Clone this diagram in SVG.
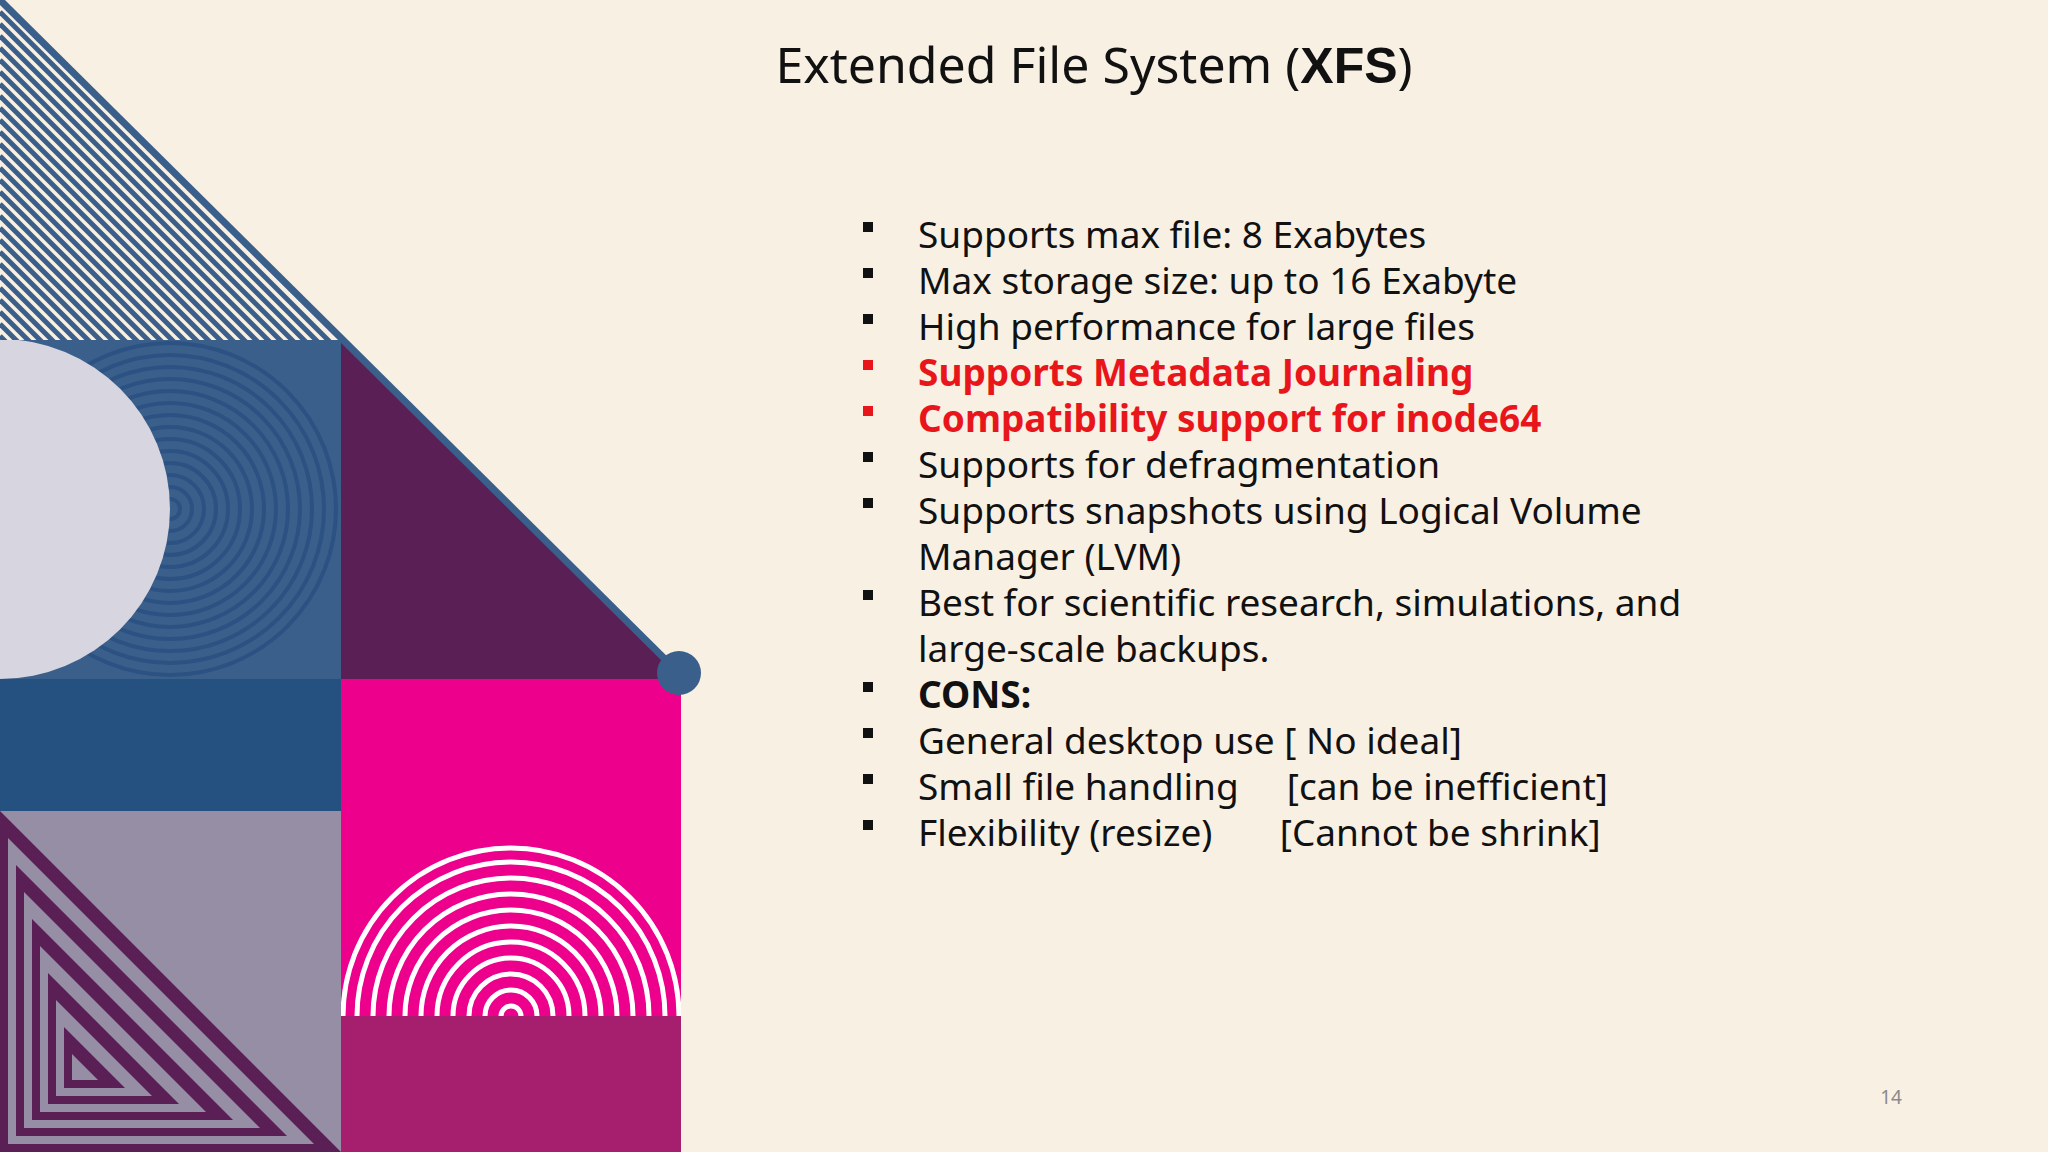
<svg xmlns="http://www.w3.org/2000/svg" width="2048" height="1152" viewBox="0 0 2048 1152">
<style>
.t{font-family:"Noto Sans","Open Sans",sans-serif;font-size:37px;fill:#111}
.r{fill:#e8161b;font-weight:bold}
.b{font-weight:bold}
.bul{fill:#111}
</style>
<defs>
<clipPath id="cTri"><polygon points="0,0 343,340 0,340"/></clipPath>
<clipPath id="cBlue"><rect x="0" y="340" width="341" height="339"/></clipPath>
<clipPath id="cPink"><rect x="341" y="679" width="340" height="337"/></clipPath>
</defs>
<rect width="2048" height="1152" fill="#f9f0e4"/>
<g id="art">
<g clip-path="url(#cTri)" stroke="#3a5f8a" stroke-width="5">
<line x1="0" y1="12" x2="340" y2="352"/><line x1="0" y1="24" x2="340" y2="364"/><line x1="0" y1="36" x2="340" y2="376"/><line x1="0" y1="48" x2="340" y2="388"/><line x1="0" y1="60" x2="340" y2="400"/><line x1="0" y1="72" x2="340" y2="412"/><line x1="0" y1="84" x2="340" y2="424"/><line x1="0" y1="96" x2="340" y2="436"/><line x1="0" y1="108" x2="340" y2="448"/><line x1="0" y1="120" x2="340" y2="460"/><line x1="0" y1="132" x2="340" y2="472"/><line x1="0" y1="144" x2="340" y2="484"/><line x1="0" y1="156" x2="340" y2="496"/><line x1="0" y1="168" x2="340" y2="508"/><line x1="0" y1="180" x2="340" y2="520"/><line x1="0" y1="192" x2="340" y2="532"/><line x1="0" y1="204" x2="340" y2="544"/><line x1="0" y1="216" x2="340" y2="556"/><line x1="0" y1="228" x2="340" y2="568"/><line x1="0" y1="240" x2="340" y2="580"/><line x1="0" y1="252" x2="340" y2="592"/><line x1="0" y1="264" x2="340" y2="604"/><line x1="0" y1="276" x2="340" y2="616"/><line x1="0" y1="288" x2="340" y2="628"/><line x1="0" y1="300" x2="340" y2="640"/><line x1="0" y1="312" x2="340" y2="652"/><line x1="0" y1="324" x2="340" y2="664"/><line x1="0" y1="336" x2="340" y2="676"/>
</g>
<rect x="0" y="340" width="341" height="339" fill="#3a5f8a"/>
<g clip-path="url(#cBlue)" fill="none" stroke="#2c5283" stroke-width="4">
<circle cx="170" cy="509" r="10"/><circle cx="170" cy="509" r="22"/><circle cx="170" cy="509" r="34"/><circle cx="170" cy="509" r="46"/><circle cx="170" cy="509" r="58"/><circle cx="170" cy="509" r="70"/><circle cx="170" cy="509" r="82"/><circle cx="170" cy="509" r="94"/><circle cx="170" cy="509" r="106"/><circle cx="170" cy="509" r="118"/><circle cx="170" cy="509" r="130"/><circle cx="170" cy="509" r="142"/><circle cx="170" cy="509" r="154"/><circle cx="170" cy="509" r="166"/>
</g>
<g clip-path="url(#cBlue)"><circle cx="0" cy="509" r="170" fill="#d6d5e0"/></g>
<polygon points="341,338 679,673 679,679 341,679" fill="#5a1f55"/>
<rect x="0" y="679" width="341" height="132" fill="#24517f"/>
<rect x="341" y="679" width="340" height="337" fill="#ec008c"/>
<g clip-path="url(#cPink)" fill="none" stroke="#fff" stroke-width="5">
<circle cx="511" cy="1016" r="10"/><circle cx="511" cy="1016" r="26"/><circle cx="511" cy="1016" r="42"/><circle cx="511" cy="1016" r="58"/><circle cx="511" cy="1016" r="74"/><circle cx="511" cy="1016" r="90"/><circle cx="511" cy="1016" r="106"/><circle cx="511" cy="1016" r="122"/><circle cx="511" cy="1016" r="138"/><circle cx="511" cy="1016" r="154"/><circle cx="511" cy="1016" r="168"/>
</g>
<rect x="341" y="1016" width="340" height="136" fill="#a61e6e"/>
<rect x="0" y="811" width="341" height="341" fill="#968ea5"/>
<g>
<polygon points="0,811 0,1152 341,1152" fill="#5a1f55"/>
<polygon points="8,838 8,1144 314,1144" fill="#968ea5"/>
<polygon points="16,865 16,1136 287,1136" fill="#5a1f55"/>
<polygon points="24,892 24,1128 260,1128" fill="#968ea5"/>
<polygon points="32,919 32,1120 233,1120" fill="#5a1f55"/>
<polygon points="40,946 40,1112 206,1112" fill="#968ea5"/>
<polygon points="48,973 48,1104 179,1104" fill="#5a1f55"/>
<polygon points="56,1000 56,1096 152,1096" fill="#968ea5"/>
<polygon points="64,1027 64,1088 125,1088" fill="#5a1f55"/>
<polygon points="72,1054 72,1080 98,1080" fill="#968ea5"/>
</g>
<line x1="0" y1="0" x2="679" y2="673" stroke="#3a5f8a" stroke-width="7"/>
<circle cx="679" cy="673" r="22" fill="#3a5f8a"/>
</g>
<g id="title"><text x="1094" y="83" text-anchor="middle" font-family="'Noto Sans','Open Sans',sans-serif" font-size="50" fill="#111">Extended File System (<tspan font-family="'Liberation Sans',Arial,sans-serif" font-weight="bold">XFS</tspan>)</text></g>
<g id="bullets">
<rect x="863" y="222" width="10" height="10" class="bul"/><text x="918" y="248" class="t">Supports max file:  8 Exabytes</text>
<rect x="863" y="268" width="10" height="10" class="bul"/><text x="918" y="294" class="t">Max storage size:   up to 16 Exabyte</text>
<rect x="863" y="314" width="10" height="10" class="bul"/><text x="918" y="340" class="t">High performance for large files</text>
<rect x="863" y="360" width="10" height="10" fill="#e8161b"/><text x="918" y="386" class="t r">Supports Metadata Journaling</text>
<rect x="863" y="406" width="10" height="10" fill="#e8161b"/><text x="918" y="432" class="t r">Compatibility support for inode64</text>
<rect x="863" y="452" width="10" height="10" class="bul"/><text x="918" y="478" class="t">Supports for defragmentation</text>
<rect x="863" y="498" width="10" height="10" class="bul"/><text x="918" y="524" class="t">Supports snapshots using Logical Volume</text>
<text x="918" y="570" class="t">Manager (LVM)</text>
<rect x="863" y="590" width="10" height="10" class="bul"/><text x="918" y="616" class="t">Best for scientific research, simulations, and</text>
<text x="918" y="662" class="t">large-scale backups.</text>
<rect x="863" y="682" width="10" height="10" class="bul"/><text x="918" y="708" class="t b">CONS:</text>
<rect x="863" y="728" width="10" height="10" class="bul"/><text x="918" y="754" class="t">General desktop use [ No ideal]</text>
<rect x="863" y="774" width="10" height="10" class="bul"/><text x="918" y="800" class="t" xml:space="preserve">Small file handling     [can be inefficient]</text>
<rect x="863" y="820" width="10" height="10" class="bul"/><text x="918" y="846" class="t" xml:space="preserve">Flexibility (resize)       [Cannot be shrink]</text>
</g>
<text x="1891" y="1104" text-anchor="middle" font-family="'Noto Sans',sans-serif" font-size="19" fill="#8a8a8a">14</text>
</svg>
